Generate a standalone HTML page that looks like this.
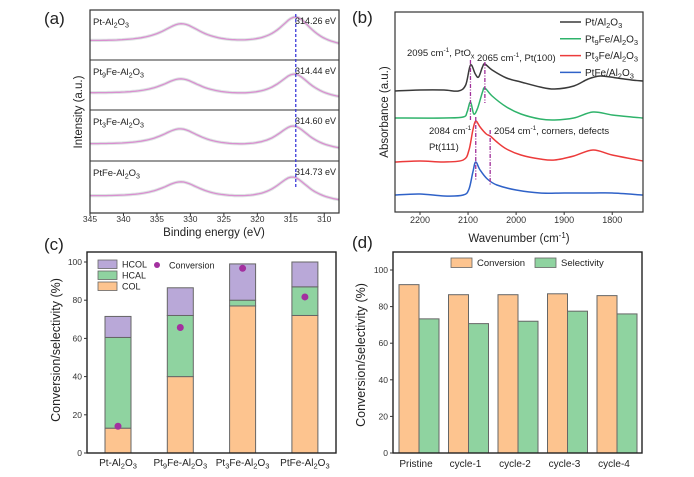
<!DOCTYPE html>
<html><head><meta charset="utf-8"><style>
html,body{margin:0;padding:0;background:#fff}
svg{display:block;font-family:"Liberation Sans",Arial,sans-serif}
</style></head><body>
<svg id="s" width="694" height="477" viewBox="0 0 694 477" xmlns="http://www.w3.org/2000/svg">
<g id="ga"></g>
<g id="gb"></g>
<g id="gc"></g>
<g id="gd"></g>
</svg>
<script>
// ---------- Panel A data ----------
const aLabels = ["Pt-Al|2|O|3|", "Pt|9|Fe-Al|2|O|3|", "Pt|3|Fe-Al|2|O|3|", "PtFe-Al|2|O|3|"];
const aPeakValues = ["314.26 eV", "314.44 eV", "314.60 eV", "314.73 eV"];
const aPeak2Center = [314.26, 314.44, 314.60, 314.73];
const aPeak1Center = [331.3, 331.4, 331.5, 331.4];
const aPeak1Height = [20, 17, 18, 17];
const aPeak2Height = [30, 25, 24, 25];
const aBaseline = [32, 34, 35, 36];
const aTicks = [345, 340, 335, 330, 325, 320, 315, 310];
// ---------- Panel B data ----------
const bTicks = [2200, 2100, 2000, 1900, 1800];
const bNames = ["Pt/Al|2|O|3|", "Pt|9|Fe/Al|2|O|3|", "Pt|3|Fe/Al|2|O|3|", "PtFe/Al|2|O|3|"];
const bBlackX = [2252,2200,2150,2120,2105,2095,2085,2078,2070,2065,2050,2020,1990,1950,1920,1880,1850,1825,1790,1760,1736];
const bBlackY = [121,122,122,121,127,147,138,135,145,148,142,134,130,125,123,126,133,136,134,132,131];
const bGreenX = [2252,2150,2110,2102,2095,2088,2080,2070,2065,2050,2020,1990,1950,1920,1880,1840,1800,1760,1736];
const bGreenY = [94,94,95,100,110,98,104,120,124,116,105,98,93,92,94,100,97,95,94];
const bRedX = [2252,2200,2150,2110,2098,2090,2084,2075,2062,2054,2040,2020,1990,1950,1920,1880,1840,1800,1736];
const bRedY = [50,51,50,52,62,82,91,85,78,76,70,63,57,53,52,56,62,57,51];
const bBlueX = [2252,2200,2150,2110,2098,2090,2084,2075,2060,2040,2000,1950,1900,1840,1800,1736];
const bBlueY = [17,18,16,17,23,40,50,42,33,27,22,19,19,19,19,17];
const bMarkX = [2095, 2065, 2084, 2054];
const bMarkTop = [152, 150, 95, 82];
const bMarkBot = [92, 109, 32, 27];
// ---------- Panel C data ----------
const cCats = ["Pt-Al|2|O|3|", "Pt|9|Fe-Al|2|O|3|", "Pt|3|Fe-Al|2|O|3|", "PtFe-Al|2|O|3|"];
const cCOL = [13, 40, 77, 72];
const cHCAL = [47.5, 32, 3, 15];
const cHCOL = [11, 14.5, 19, 13];
const cConv = [14, 65.7, 96.7, 81.7];
const cTicks = [0, 20, 40, 60, 80, 100];
// ---------- Panel D data ----------
const dCats = ["Pristine", "cycle-1", "cycle-2", "cycle-3", "cycle-4"];
const dConv = [92, 86.5, 86.5, 87, 86];
const dSel = [73.3, 70.7, 72, 77.5, 76];
const dTicks = [0, 20, 40, 60, 80, 100];

const NS = "http://www.w3.org/2000/svg";
function mk(parent, tag, attrs){ const e=document.createElementNS(NS,tag); for(const k in attrs) e.setAttribute(k,attrs[k]); parent.appendChild(e); return e; }
function rich(parent, x, y, str, size, anchor){
  const t = mk(parent,"text",{x:x,y:y,"font-size":size,fill:"#222","text-anchor":anchor||"start"});
  const parts = str.split("|");
  parts.forEach((p,i)=>{ if(!p) return; const ts=mk(t,"tspan",{}); ts.textContent=p;
    if(i%2===1){ ts.setAttribute("font-size",size*0.75); ts.setAttribute("dy",size*0.25);} 
    else if(i>0){ ts.setAttribute("dy",-size*0.25);} });
  return t;
}
function smoothPath(pts){
  let d="M"+pts[0][0]+","+pts[0][1];
  for(let i=0;i<pts.length-1;i++){
    const p0=pts[i-1]||pts[i], p1=pts[i], p2=pts[i+1], p3=pts[i+2]||p2;
    const c1=[p1[0]+(p2[0]-p0[0])/6, p1[1]+(p2[1]-p0[1])/6];
    const c2=[p2[0]-(p3[0]-p1[0])/6, p2[1]-(p3[1]-p1[1])/6];
    d+=" C"+c1[0].toFixed(1)+","+c1[1].toFixed(1)+" "+c2[0].toFixed(1)+","+c2[1].toFixed(1)+" "+p2[0].toFixed(1)+","+p2[1].toFixed(1);
  }
  return d;
}

// ================= PANEL A =================
(function(){
  const g=document.getElementById("ga");
  const L=90,R=339,T=10,B=213;
  const xA=v=>L+(345-v)*(R-L)/(345-307.8);
  const subs=[[10,60],[60,110],[110,161],[161,213]];
  let t=mk(g,"text",{x:44,y:24,"font-size":17,fill:"#222"}); t.textContent="(a)";
   
  subs.forEach((s,i)=>{
    const top=s[0];
    const base=v=>top+aBaseline[i]+(345-v)*0.19;
    const pts=[];
    for(let v=345; v>=307.8; v-=0.4){
      const l1=aPeak1Height[i]/(1+Math.pow((v-aPeak1Center[i])/3.6,2));
      const l2=aPeak2Height[i]/(1+Math.pow((v-aPeak2Center[i])/3.0,2));
      pts.push([xA(v),base(v)-l1-l2]);
    }
    const fit=mk(g,"path",{d:"M"+pts.map(p=>p[0].toFixed(1)+","+p[1].toFixed(1)).join(" L"),fill:"none",stroke:"#c7d2d0",
      "stroke-width":3.2,opacity:0.6});
     
    const f=mk(g,"path",{d:"M"+pts.map(p=>p[0].toFixed(1)+","+p[1].toFixed(1)).join(" L"),fill:"none",stroke:"#d98fd0","stroke-width":1.3});
     
    const lb=rich(g,93,top+15,aLabels[i],9.5);
     
    const pv=mk(g,"text",{x:336,y:top+14,"font-size":9,fill:"#222","text-anchor":"end"}); pv.textContent=aPeakValues[i];
     
    if(i>0){ const ln=mk(g,"line",{x1:L,x2:R,y1:top,y2:top,stroke:"#333","stroke-width":1});   }
  });
  const dl=mk(g,"line",{x1:xA(314.26),x2:xA(314.26),y1:14,y2:189,stroke:"#3a3ad8","stroke-width":1.3,"stroke-dasharray":"3,2"});
   
  const bx=mk(g,"rect",{x:L,y:T,width:R-L,height:B-T,fill:"none",stroke:"#333","stroke-width":1.2});
   
  aTicks.forEach(v=>{ const x=xA(v);
    const tk=mk(g,"line",{x1:x,x2:x,y1:B,y2:B+3,stroke:"#333"});  
    const tl=mk(g,"text",{x:x,y:B+9,"font-size":8.5,fill:"#333","text-anchor":"middle"}); tl.textContent=v;
     });
  t=mk(g,"text",{x:214,y:236,"font-size":11.5,fill:"#222","text-anchor":"middle"}); t.textContent="Binding energy (eV)";
   
  t=mk(g,"text",{x:0,y:0,"font-size":11.5,fill:"#222","text-anchor":"middle",transform:"translate(82,112) rotate(-90)"}); t.textContent="Intensity (a.u.)";
   
})();

// ================= PANEL B =================
(function(){
  const g=document.getElementById("gb");
  const L=395,R=643,T=12,B=212;
  const xB=v=>L+(2252-v)*(R-L)/(2252-1736);
  const yB=v=>B-v;
  let t=mk(g,"text",{x:352,y:23,"font-size":17,fill:"#222"}); t.textContent="(b)";
   
  const series=[[bBlackX,bBlackY,"#3a3a3a"],[bGreenX,bGreenY,"#2fb36b"],[bRedX,bRedY,"#ec3b3b"],[bBlueX,bBlueY,"#2f62c8"]];
  const snames=['series-pt','series-pt9fe','series-pt3fe','series-ptfe'];
  series.forEach((s,i)=>{
    const pts=s[0].map((x,j)=>[xB(x),yB(s[1][j])]);
    const p=mk(g,"path",{d:smoothPath(pts),fill:"none",stroke:s[2],"stroke-width":1.5});
     
    const ly=22+i*16.8;
    const ll=mk(g,"line",{x1:560,x2:581,y1:ly,y2:ly,stroke:s[2],"stroke-width":1.5});
     
    const lt=rich(g,585,ly+3.5,bNames[i],10);
     
  });
  bMarkX.forEach((x,i)=>{
    const m=mk(g,"line",{x1:xB(x),x2:xB(x),y1:yB(bMarkTop[i]),y2:yB(bMarkBot[i]),stroke:"#a0309a","stroke-width":1.3,"stroke-dasharray":"4,1.5,1,1.5"});
     
  });
  const ann=[[407,56,"2095 cm|-1|, PtO|x|"],[477,61,"2065 cm|-1|, Pt(100)"],[429,134,"2084 cm|-1|"],[429,150,"Pt(111)"],[494,134,"2054 cm|-1|, corners, defects"]];
  ann.forEach(a=>{
    const tx=mk(g,"text",{x:a[0],y:a[1],"font-size":9.5,fill:"#222"});
     
    a[2].split("|").forEach((p,i)=>{ if(!p) return; const ts=mk(tx,"tspan",{}); ts.textContent=p;
      if(p==="-1"){ts.setAttribute("font-size",6.5);ts.setAttribute("dy",-4);}
      else if(p==="x"){ts.setAttribute("font-size",7);ts.setAttribute("dy",2.5);}
      else if(i>0){ts.setAttribute("dy",a[2].split("|")[i-1]==="-1"?4:-2.5);} });
  });
  const bx=mk(g,"rect",{x:L,y:T,width:R-L,height:B-T,fill:"none",stroke:"#333","stroke-width":1.2});
   
  bTicks.forEach(v=>{ const x=xB(v);
    const tk=mk(g,"line",{x1:x,x2:x,y1:B,y2:B+3,stroke:"#333"});  
    const tl=mk(g,"text",{x:x,y:B+11,"font-size":9,fill:"#333","text-anchor":"middle"}); tl.textContent=v;
     });
  t=mk(g,"text",{x:519,y:242,"font-size":11.5,fill:"#222","text-anchor":"middle"});
   
  let ts=mk(t,"tspan",{}); ts.textContent="Wavenumber (cm";
  ts=mk(t,"tspan",{"font-size":8,dy:-4}); ts.textContent="-1";
  ts=mk(t,"tspan",{dy:4}); ts.textContent=")";
  t=mk(g,"text",{x:0,y:0,"font-size":11.5,fill:"#222","text-anchor":"middle",transform:"translate(388,112) rotate(-90)"}); t.textContent="Absorbance (a.u.)";
   
})();

// ================= PANEL C =================
(function(){
  const g=document.getElementById("gc");
  const L=87,R=336,T=252,B=453;
  const yC=v=>B-v*(453-262)/100;
  const xC=i=>L+31+i*62.3;
  const bw=26;
  const ORG="#fdc48f",GRN="#8fd3a0",PUR="#b9a8d8";
  let t=mk(g,"text",{x:44,y:250,"font-size":17,fill:"#222"}); t.textContent="(c)";
   
  cCats.forEach((c,i)=>{
    const segs=[[0,cCOL[i],ORG,'bar-col'],[cCOL[i],cCOL[i]+cHCAL[i],GRN,'bar-hcal'],[cCOL[i]+cHCAL[i],cCOL[i]+cHCAL[i]+cHCOL[i],PUR,'bar-hcol']];
    segs.forEach(s=>{
      const r=mk(g,"rect",{x:xC(i)-bw/2,y:yC(s[1]),width:bw,height:yC(s[0])-yC(s[1]),fill:s[2],stroke:"#666","stroke-width":1});
       
    });
    const d=mk(g,"circle",{cx:xC(i),cy:yC(cConv[i]),r:3.5,fill:"#a3309f"});
     
    const lb=rich(g,xC(i),466,c,10,"middle");
     
  });
  const bx=mk(g,"rect",{x:L,y:T,width:R-L,height:B-T,fill:"none",stroke:"#222","stroke-width":1.4});
   
  cTicks.forEach(v=>{ const y=yC(v);
    const tk=mk(g,"line",{x1:L-3,x2:L,y1:y,y2:y,stroke:"#333"});  
    const tl=mk(g,"text",{x:L-5,y:y+3,"font-size":8.5,fill:"#333","text-anchor":"end"}); tl.textContent=v;
     });
  const leg=[[ORG,"COL",283],[GRN,"HCAL",272],[PUR,"HCOL",261]];
  leg.forEach(l=>{ const r=mk(g,"rect",{x:98,y:l[2]-1,width:19,height:8.5,fill:l[0],stroke:"#666","stroke-width":0.8});
     
    const tx=mk(g,"text",{x:122,y:l[2]+6.5,"font-size":9,fill:"#222"}); tx.textContent=l[1];
     });
  const ld=mk(g,"circle",{cx:157,cy:265,r:3,fill:"#a3309f"});  
  t=mk(g,"text",{x:169,y:268.5,"font-size":9,fill:"#222"}); t.textContent="Conversion";
   
  t=mk(g,"text",{x:0,y:0,"font-size":12.5,fill:"#222","text-anchor":"middle",transform:"translate(60,350) rotate(-90)"}); t.textContent="Conversion/selectivity (%)";
   
})();

// ================= PANEL D =================
(function(){
  const g=document.getElementById("gd");
  const L=393,R=642,T=252,B=453;
  const yD=v=>B-v*(453-270)/100;
  const xD=i=>L+26+i*49.5;
  const bw=20;
  const ORG="#fdc48f",GRN="#8fd3a0";
  let t=mk(g,"text",{x:352,y:248,"font-size":17,fill:"#222"}); t.textContent="(d)";
   
  dCats.forEach((c,i)=>{
    const r1=mk(g,"rect",{x:xD(i)-bw,y:yD(dConv[i]),width:bw,height:B-yD(dConv[i]),fill:ORG,stroke:"#666","stroke-width":1});
     
    const r2=mk(g,"rect",{x:xD(i),y:yD(dSel[i]),width:bw,height:B-yD(dSel[i]),fill:GRN,stroke:"#666","stroke-width":1});
     
    const lb=mk(g,"text",{x:xD(i)-3,y:467,"font-size":10,fill:"#222","text-anchor":"middle"}); lb.textContent=c;
     
  });
  const bx=mk(g,"rect",{x:L,y:T,width:R-L,height:B-T,fill:"none",stroke:"#222","stroke-width":1.4});
   
  dTicks.forEach(v=>{ const y=yD(v);
    const tk=mk(g,"line",{x1:L-3,x2:L,y1:y,y2:y,stroke:"#333"});  
    const tl=mk(g,"text",{x:L-5,y:y+3,"font-size":8.5,fill:"#333","text-anchor":"end"}); tl.textContent=v;
     });
  let r=mk(g,"rect",{x:451,y:258,width:21,height:9.5,fill:ORG,stroke:"#666","stroke-width":0.8});
   
  t=mk(g,"text",{x:477,y:266,"font-size":9.5,fill:"#222"}); t.textContent="Conversion";
   
  r=mk(g,"rect",{x:535,y:258,width:21,height:9.5,fill:GRN,stroke:"#666","stroke-width":0.8});
   
  t=mk(g,"text",{x:561,y:266,"font-size":9.5,fill:"#222"}); t.textContent="Selectivity";
   
  t=mk(g,"text",{x:0,y:0,"font-size":12.5,fill:"#222","text-anchor":"middle",transform:"translate(365,355) rotate(-90)"}); t.textContent="Conversion/selectivity (%)";
   
})();
</script>
</body></html>
